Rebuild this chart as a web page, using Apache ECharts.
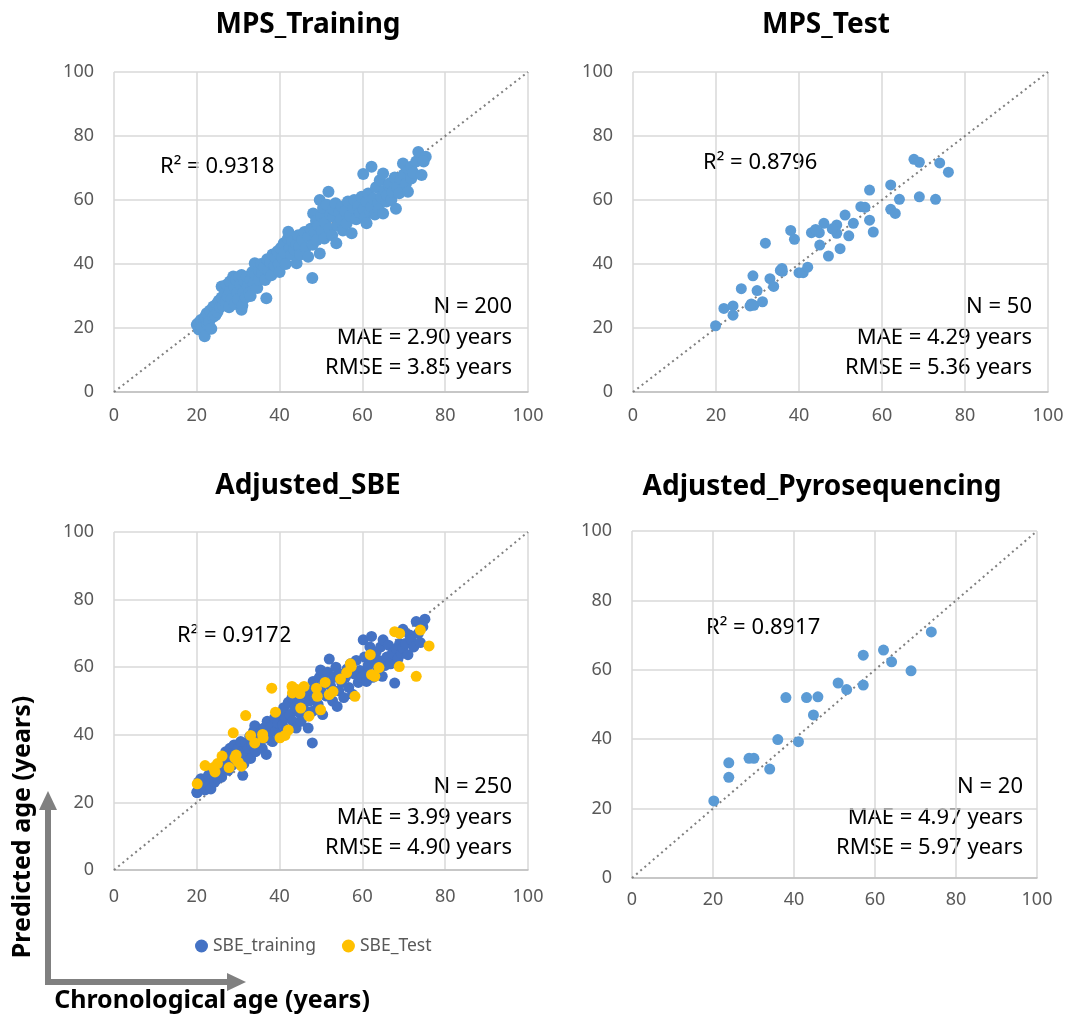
<!DOCTYPE html>
<html>
<head>
<meta charset="utf-8">
<script src="https://cdn.jsdelivr.net/npm/echarts@6/dist/echarts.min.js"></script>
<style>
html, body { margin: 0; padding: 0; background: #fff; }
#chart { width: 1073px; height: 1022px; }
</style>
</head>
<body>
<div id="chart"></div>
<script>
// axis ticks (both axes, all panels)
var ticks = [0, 20, 40, 60, 80, 100];
var diagonal = [[0, 0], [100, 100]];

// MPS training (chronological, predicted)
var mpsTrain = [
  [20,21],[20.3,21.5],[20.5,19.5],[21,22.5],[21.2,20],[21.9,17.4],[22,23.5],[22.4,24.6],[22.5,21],[23,22],
  [23.2,25.5],[23.5,19.8],[24,26.7],[24,23.5],[24.5,24],[24.8,27.5],
  [25,25],[25.3,28.5],[25.6,26.5],[26,33],[26,29.5],[26.3,27],[26.8,31],[27,28],[27.2,33.5],[27.5,30],
  [27.8,26.5],[28,34.5],[28,31.5],[28.4,29],[28.8,36.1],[29,33],[29.2,27.5],[29.5,35],[29.8,31],[30,29],
  [30.2,36],[30.5,33.5],[30.8,36.6],[30.8,25.7],[31,27],
  [31.3,31],[31.5,34.5],[31.8,29.5],[32,36],[32.3,33],[32.6,31],[33,35],[33,30],[33.4,37.5],[33.8,34],
  [34,40.2],[34.2,36.5],[34.6,32.5],[35,38],[35,35],
  [35.5,40],[35.8,37],[36.2,39],[36.5,35],[36.8,29.3],[37,41.5],[37.3,38],[37.8,40.5],[38,36.5],[38.3,43],
  [38.8,39.5],[39,42],[39.5,44],[39.8,40],[40,37.5],
  [40.3,45],[40.6,42],[41,46.5],[41.2,43.5],[41.5,40],[42,48],[42.1,50.1],[42.4,45],[42.8,43],[43,47],
  [43.5,44.5],[44,46],[44.1,40.2],[44.5,49],[44.8,45.5],[45,43],[45.5,47.5],[46,50],[46.3,45],[46.9,42.3],
  [47,48.5],[47.5,51],[47.9,35.6],[48,46],
  [48.1,55.8],[48.5,50],[48.8,53.5],[49,47.5],[49.4,52],[49.7,60],[49.7,43.3],[50,55],[50.2,50.5],[50.5,57.5],
  [50.8,48],[51,53],[51.4,58.5],[51.8,62.6],[52,51],[52.3,55.5],[52.7,49],[52.9,54.8],[53,57],[53.5,59],
  [53.7,46.5],[54,52],[54.4,56],[54.8,54],[55,58],[55.3,50.5],[55.8,56.5],
  [56.2,52.7],[56.5,59.5],[57,55],[57.4,49.6],[57.8,57.5],[58,60],[58.5,54],[59,58],[59.4,56],[59.8,61],
  [60.2,68.1],[60.3,57],[60.6,54.5],[61,52.7],[61,59.5],[61.4,62],[61.8,56.5],[62.2,70.4],[62.2,58],[62.6,60.5],
  [63,55.5],[63.3,64],[63.8,59],[64,57],[64.2,66.2],
  [64.5,61],[65,68.3],[65,55.8],[65.4,63],[65.8,59.5],[66,61.5],[66.4,64.5],[66.6,65.2],[67,60],[67.3,62.5],
  [67.8,67],[68.1,57.3],[68.4,64],[68.9,62.1],[69.3,66.5],[69.8,71.4],[70,68],
  [70.5,65],[71,62.6],[71.3,69.5],[71.8,70.4],[71.8,66.7],[72.3,68.5],[73,72],[73.5,75],[74.3,67.8],[75.3,73.5],
  [74.8,72]
];

// MPS test
var mpsTest = [
  [19.9,20.7],[21.9,26.1],[24.1,26.9],[24.1,24],[26.1,32.3],[28.2,26.9],[29.1,27.1],[28.9,36.3],[29.9,31.7],[31.2,28.2],
  [31.9,46.5],[33,35.4],[33.9,33],[35.9,38.6],[36,37.7],[38,50.5],[38.9,47.7],[40,37.3],[41,37.3],[42.1,39],
  [43,49.8],[44.9,49.8],[45,45.9],[46,52.7],[47.1,42.5],[49.1,52.2],[49.1,49.6],[49.9,44.8],[51.1,55.3],[52,48.8],
  [53.1,52.7],[54.9,57.9],[55.9,57.7],[57,63.1],[57,53.7],[57.9,50],[62.1,64.7],[62.1,57.1],[63.2,55.8],[64.2,60.2],
  [67.7,72.7],[69,71.8],[69,61],[72.9,60.2],[73.9,71.6],[76,68.7],[44,50.8],[48,51],[28.5,27.5],[35.5,38]
];

// Adjusted SBE, training part
var sbeTrain = [
  [20,23],[20.1,22.9],[20.4,26],[20.8,24.5],[21,27],[21.5,25],[22,23.7],[22.3,26.5],[22.8,28],[23,25],
  [23.4,24],[23.8,27],[24,29.5],[24.3,26],[24.7,28.5],[25,27],[25,30.5],
  [25.5,29],[25.8,31.5],[26,27.5],[26.4,33],[26.7,30],[27,35],[27.2,32],[27.6,29.5],[28,36],[28.2,33.5],
  [28.6,31],[29,37],[29.2,34.5],[29.6,32],[30,36],[30.3,33],[30.6,38],[31,35],[31.1,28],[31.4,31.5],
  [31.8,37.5],[32,34],[32.4,36],[32.8,39.5],[33,33],[33.3,37],[33.7,41],[34,42.7],[34.2,35],[34.6,39],
  [35,37.5],[35.3,40.5],[35.8,36],
  [36.2,42],[36.5,39],[36.8,34.2],[37,44],[37.5,40.5],[38,42.5],[38.3,38],[38.8,45],[39,41],[39.5,43.5],
  [40,40],[40.3,46.5],[40.7,43],
  [41,48],[41.4,45],[41.8,41.5],[42.1,49.6],[42.5,46],[43,51],[43.2,44],[43.6,48],[44,42],[44.4,50],
  [44.8,46.5],[45.2,44],[45.6,49],[46,52],[46.4,47],[46.9,42],[47.2,50],[47.6,53],[47.9,37.6],[48,47],
  [48.1,55.8],[48.5,51],[48.9,54],[49.3,49],[49.6,57],[49.9,59.2],[50,53],[50.4,46],[50.8,56],[51.2,51.5],
  [51.6,58.5],[52,62.4],[52.3,54.5],[52.8,50],[53.2,57],[53.6,60],[53.9,48.4],[54.3,53],[54.7,58],[55,55.5],
  [55.5,51],[55.9,57],
  [56.3,59.5],[56.7,54],[57.1,61],[57.6,52],[58,58],[58.5,62],[59,55.5],[59.4,59],[59.8,57],[60.2,68.1],
  [60.5,63],[60.8,58],[61,55.8],[61.4,60.5],[61.8,66],[62.2,69.1],[62.5,57],[62.9,61.5],[63.3,64.5],[63.7,59],
  [64,62],
  [64.4,66],[64.8,57.3],[65,68.1],[65.4,60.5],[65.9,63],[66.3,66.5],[66.8,61],[67.2,64],[67.8,55.3],[68.2,65.5],
  [68.6,62.5],[69,67],[69.4,64],[69.8,65.6],[69.8,71.2],
  [70.4,67],[71,63.7],[71.4,69.5],[71.8,68.1],[72.4,66],[73,73.5],[73.5,70],[74,67.3],[75.1,74.2],[74.6,72]
];

// Adjusted SBE, test part
var sbeTest = [
  [20.1,25.5],[22,30.9],[24,30.3],[24.4,29],[26.1,33.7],[27.8,30.3],[28.8,40.6],[29.2,33.2],[30,31.9],[30.8,30.7],
  [31.8,45.7],[33,39.8],[34,37.6],[35.9,40.1],[36,39.1],[38.1,53.8],[39,46.7],[40.1,39.1],[41.3,39.8],[42.1,41.4],
  [43,54.3],[43.1,52.4],[44.9,52.2],[45.1,47.9],[45.9,54.3],[47.1,45.5],[48.9,53.8],[49.1,51.4],[49.9,47.4],[51,55.5],
  [52,51.9],[52.9,52.8],[54.7,56.5],[56.2,58.4],[57.1,61],[57.3,60.2],[58.2,51.4],[61.9,63.7],[62.2,57.8],[63,57.3],
  [64,59.9],[67.8,70.5],[69,70],[68.9,60.2],[73,57.3],[74,71],[76.1,66.3],[29.5,34],[44,53.5],[25,31.5]
];

// Adjusted pyrosequencing
var pyro = [
  [20.2,22.2],[23.9,33.2],[23.9,29],[28.9,34.5],[30.1,34.5],[34,31.4],[36,39.9],[38,52],[41.1,39.3],[43.1,52],
  [44.8,47],[45.9,52.2],[50.9,56.2],[53,54.3],[57.1,64.2],[57.1,55.6],[62.1,65.7],[64.1,62.3],[68.9,59.7],[73.9,70.9]
];

var titles = ['MPS_Training', 'MPS_Test', 'Adjusted_SBE', 'Adjusted_Pyrosequencing'];
var r2 = ['R\u00b2 = 0.9318', 'R\u00b2 = 0.8796', 'R\u00b2 = 0.9172', 'R\u00b2 = 0.8917'];
var stats = [
  ['N = 200', 'MAE = 2.90 years', 'RMSE = 3.85 years'],
  ['N = 50', 'MAE = 4.29 years', 'RMSE = 5.36 years'],
  ['N = 250', 'MAE = 3.99 years', 'RMSE = 4.90 years'],
  ['N = 20', 'MAE = 4.97 years', 'RMSE = 5.97 years']
];

var blue = '#5B9BD5', darkBlue = '#4472C4', gold = '#FFC000';
var font = '"Noto Sans", "Open Sans", sans-serif';

var grids = [
  {left: 114, top: 72, width: 414, height: 320},
  {left: 633, top: 72, width: 415, height: 320},
  {left: 114, top: 532, width: 414, height: 338},
  {left: 632, top: 531, width: 405, height: 347}
];
var labelMargin = [15, 15, 18, 13];

function axis(i, isX) {
  return {
    type: 'value', gridIndex: i, min: ticks[0], max: ticks[ticks.length - 1], interval: 20,
    axisLine: {show: isX, lineStyle: {color: '#bfbfbf', width: 1.5}},
    axisTick: {show: false},
    splitLine: {show: true, lineStyle: {color: '#d9d9d9', width: 1.5}},
    axisLabel: {color: '#595959', fontSize: 18, fontFamily: font, margin: isX ? labelMargin[i] : 20}
  };
}

var xAxes = [], yAxes = [], series = [], graphics = [];
grids.forEach(function (g, i) {
  g.outerBoundsMode = 'none';
  xAxes.push(axis(i, true));
  yAxes.push(axis(i, false));
  series.push({
    type: 'line', xAxisIndex: i, yAxisIndex: i, data: diagonal, symbol: 'none', silent: true,
    lineStyle: {color: '#7f7f7f', width: 2, type: [2, 3.5]}, z: 1
  });
});

function dots(i, name, data, color, size) {
  series.push({
    type: 'scatter', name: name, xAxisIndex: i, yAxisIndex: i, data: data,
    symbolSize: size, itemStyle: {color: color, opacity: 1}, z: 3
  });
}
dots(0, 'MPS_Training', mpsTrain, blue, 12);
dots(1, 'MPS_Test', mpsTest, blue, 11);
dots(2, 'SBE_training', sbeTrain, darkBlue, 11);
dots(2, 'SBE_Test', sbeTest, gold, 11);
dots(3, 'Pyro', pyro, blue, 11);

// panel titles
var titlePos = [[308, 25], [826, 25], [308, 486], [822, 487]];
titles.forEach(function (t, i) {
  graphics.push({type: 'text', x: titlePos[i][0], y: titlePos[i][1],
    style: {text: t, fill: '#000', font: 'bold 28px ' + font, align: 'center', verticalAlign: 'middle'}});
});

// R² and error statistics
var r2Pos = [[160, 167], [703, 163], [177, 636], [706, 628]];
var statPos = [[512, 307], [1032, 307], [512, 787], [1023, 787]];
for (var i = 0; i < 4; i++) {
  graphics.push({type: 'text', x: r2Pos[i][0], y: r2Pos[i][1],
    style: {text: r2[i], fill: '#000', font: '22px ' + font, align: 'left', verticalAlign: 'middle'}});
  stats[i].forEach(function (s, k) {
    graphics.push({type: 'text', x: statPos[i][0], y: statPos[i][1] + k * 30.5,
      style: {text: s, fill: '#000', font: '22px ' + font, align: 'right', verticalAlign: 'middle'}});
  });
}

// corner arrows and shared axis names
var arrowGray = '#808080';
graphics.push(
  {type: 'polyline', shape: {points: [[48, 985], [48, 806]]}, style: {stroke: arrowGray, lineWidth: 6}},
  {type: 'polygon', shape: {points: [[39, 810], [57, 810], [48, 791]]}, style: {fill: arrowGray}},
  {type: 'polyline', shape: {points: [[45, 982], [228, 982]]}, style: {stroke: arrowGray, lineWidth: 6}},
  {type: 'polygon', shape: {points: [[227, 973], [227, 991], [246, 982]]}, style: {fill: arrowGray}},
  {type: 'text', x: 23, y: 827, rotation: Math.PI / 2,
    style: {text: 'Predicted age (years)', fill: '#000', font: 'bold 25px ' + font, align: 'center', verticalAlign: 'middle'}},
  {type: 'text', x: 212, y: 1001,
    style: {text: 'Chronological age (years)', fill: '#000', font: 'bold 25px ' + font, align: 'center', verticalAlign: 'middle'}}
);

var chart = echarts.init(document.getElementById('chart'));
chart.setOption({
  animation: false,
  backgroundColor: '#fff',
  grid: grids,
  xAxis: xAxes,
  yAxis: yAxes,
  legend: {
    data: ['SBE_training', 'SBE_Test'], left: 190, top: 932, icon: 'circle',
    itemWidth: 13, itemHeight: 13, itemGap: 26,
    textStyle: {color: '#595959', fontSize: 17.5, fontFamily: font}
  },
  series: series,
  graphic: graphics
});
</script>
</body>
</html>
